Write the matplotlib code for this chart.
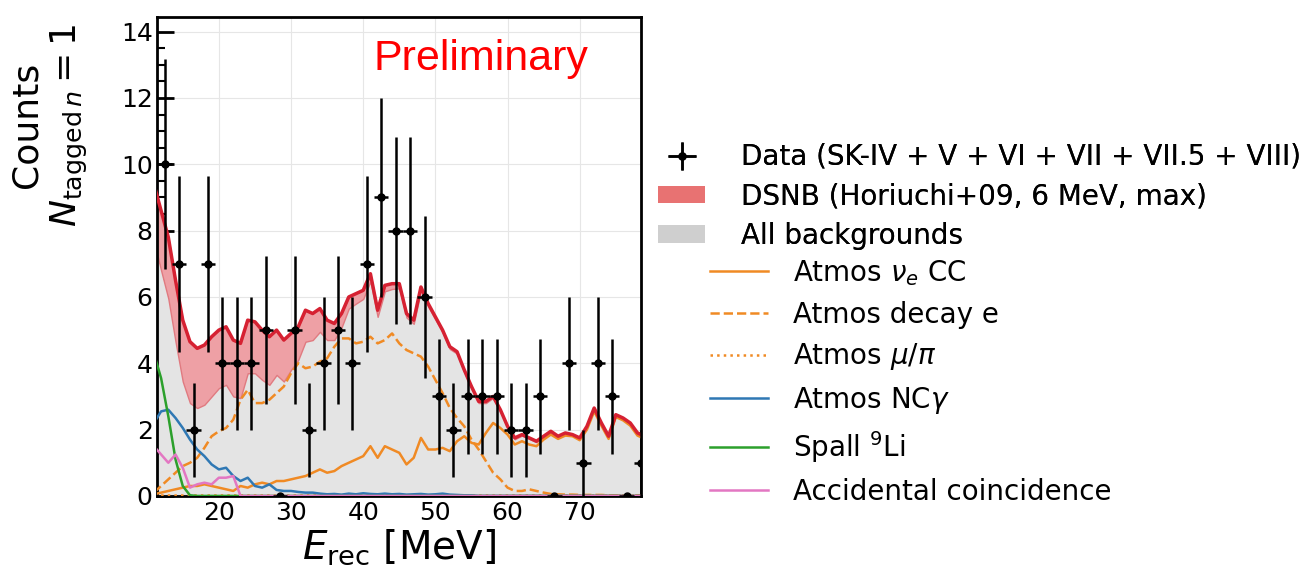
import numpy as np
import matplotlib
matplotlib.use('Agg')
import matplotlib.pyplot as plt
from matplotlib.patches import Patch

# observed events, 2 MeV bins
bin_centers = np.arange(12.5, 79, 2)
counts = [10, 7, 2, 7, 4, 4, 4, 5, 0, 5, 2, 4, 5, 4, 7, 9, 8,
          8, 6, 3, 2, 3, 3, 3, 2, 2, 3, 0, 4, 1, 4, 3, 0, 1]

# model curves, 1 MeV grid
energy = np.arange(11, 80)
total = [9.4, 8.6, 7.8, 6.5, 5.3, 4.65, 4.45, 4.55, 4.8, 5.0,
         5.1, 4.7, 4.6, 5.3, 5.25, 5.0, 4.8, 5.0, 4.7, 4.9,
         5.1, 5.6, 5.5, 5.65, 5.3, 5.2, 5.5, 6.0, 6.1, 6.2,
         6.7, 5.6, 6.35, 6.4, 6.4, 5.5, 5.3, 6.3, 5.8, 5.4,
         5.0, 4.5, 4.35, 3.8, 3.3, 2.85, 2.85, 3.0, 2.6, 2.1,
         1.75, 1.85, 1.75, 1.65, 1.8, 1.95, 1.8, 1.9, 1.85, 1.75,
         2.1, 2.65, 2.2, 1.8, 2.45, 2.35, 2.2, 1.9, 1.8]
dsnb = [1.7, 1.8, 1.85, 1.85, 1.85, 1.85, 1.8, 1.8, 1.8, 1.75,
        1.75, 1.7, 1.65, 1.6, 1.55, 1.5, 1.45, 1.35, 1.25, 1.1,
        1.0, 0.95, 0.8, 0.7, 0.6, 0.5, 0.42, 0.35, 0.3, 0.26,
        0.23, 0.2, 0.18, 0.16, 0.14, 0.12, 0.11, 0.1, 0.09, 0.08,
        0.07, 0.07, 0.06, 0.06, 0.05, 0.05, 0.05, 0.04, 0.04, 0.04,
        0.04, 0.03, 0.03, 0.03, 0.03, 0.03, 0.03, 0.03, 0.02, 0.02,
        0.02, 0.02, 0.02, 0.02, 0.02, 0.02, 0.02, 0.02, 0.02]
atm_cc = [0.05, 0.1, 0.15, 0.2, 0.25, 0.3, 0.3, 0.35, 0.3, 0.25,
          0.2, 0.15, 0.3, 0.25, 0.35, 0.4, 0.35, 0.45, 0.45, 0.5,
          0.55, 0.6, 0.7, 0.8, 0.7, 0.75, 0.9, 1.0, 1.1, 1.2,
          1.5, 1.15, 1.5, 1.4, 1.3, 0.95, 1.15, 1.75, 1.4, 1.4,
          1.45, 1.35, 1.65, 1.8, 1.6, 1.55, 1.9, 2.2, 2.05, 1.85,
          1.55, 1.65, 1.55, 1.5, 1.7, 1.85, 1.72, 1.82, 1.8, 1.68,
          2.0, 2.55, 2.12, 1.72, 2.38, 2.28, 2.12, 1.82, 1.72]
atm_decay = [0.1, 0.3, 0.5, 0.7, 0.9, 1.0, 1.15, 1.45, 1.8, 1.95,
             2.05, 2.3, 2.9, 3.2, 2.8, 2.8, 2.9, 3.1, 3.3, 3.7,
             4.0, 3.85, 3.9, 4.05, 4.15, 4.5, 4.75, 4.75, 4.6, 4.65,
             4.8, 4.6, 4.7, 4.9, 4.6, 4.4, 4.3, 4.2, 3.9, 3.5,
             3.1, 2.65, 2.35, 2.1, 1.7, 1.4, 1.05, 0.7, 0.5, 0.25,
             0.15, 0.15, 0.2, 0.15, 0.1, 0.06, 0.05, 0.04, 0.04, 0.03,
             0.03, 0.03, 0.03, 0.02, 0.02, 0.02, 0.02, 0.02, 0.02]
atm_mupi = [0.02] * 69
atm_ncg = [2.2, 2.55, 2.6, 2.35, 2.05, 1.7, 1.4, 1.2, 0.95, 0.8,
           0.85, 0.6, 0.45, 0.55, 0.3, 0.25, 0.35, 0.18, 0.15, 0.15,
           0.12, 0.1, 0.1, 0.07, 0.05, 0.06, 0.04, 0.07, 0.05, 0.08,
           0.06, 0.05, 0.07, 0.05, 0.06, 0.04, 0.05, 0.06, 0.04, 0.05,
           0.07, 0.04, 0.03, 0.02, 0.02] + [0.0] * 24
spall_li9 = [4.3, 3.55, 2.4, 1.1, 0.3, 0.02] + [0.0] * 63
accidental = [1.5, 1.25, 1.0, 1.25, 0.85, 0.25, 0.35, 0.4, 0.35, 0.55,
              0.55, 0.6] + [0.0] * 57


def main():
    total_arr = np.array(total)
    bkg = total_arr - np.array(dsnb)

    fig = plt.figure(figsize=(13.07, 5.76), dpi=100)
    ax = fig.add_axes([0.1205, 0.139, 0.370, 0.832])

    ax.fill_between(energy, 0, bkg, color='#e4e4e4', lw=0, zorder=1)
    ax.fill_between(energy, bkg, total_arr, facecolor='#eea0a5',
                    edgecolor='#e07a80', lw=1, zorder=2)

    ax.plot(energy, atm_cc, color='#f08a24', lw=1.8, zorder=3)
    ax.plot(energy, atm_decay, color='#f08a24', lw=1.8, ls='--', zorder=3)
    ax.plot(energy, atm_mupi, color='#f08a24', lw=1.8, ls=':', zorder=3)
    ax.plot(energy, atm_ncg, color='#2f78b4', lw=1.8, zorder=3)
    ax.plot(energy, spall_li9, color='#2ca02c', lw=1.8, zorder=3)
    ax.plot(energy, accidental, color='#e377c2', lw=1.8, zorder=3)
    ax.plot(energy, total_arr, color='#d62132', lw=2.5, zorder=4)

    cnt = np.array(counts)
    data = ax.errorbar(bin_centers, cnt, xerr=1.0, yerr=np.sqrt(cnt),
                       fmt='o', ms=5, color='black', elinewidth=1.8,
                       capsize=0, zorder=6, clip_on=True)

    ax.set_xlim(11.5, 78.5)
    ax.set_ylim(0, 14.45)
    ax.set_xticks([20, 30, 40, 50, 60, 70])
    ax.set_xticks(np.arange(12, 79, 2), minor=True)
    ax.set_yticks(np.arange(0, 15, 2))
    ax.set_yticks(np.arange(0, 14.5, 0.5), minor=True)
    ax.tick_params(which='both', direction='in', top=False, right=False,
                   labelsize=18)
    ax.tick_params(which='major', length=12, width=2)
    ax.tick_params(which='minor', length=6, width=1.5)
    for sp in ax.spines.values():
        sp.set_linewidth(2)
    ax.grid(True, which='major', color='#e6e6e6', lw=0.8, zorder=0)
    ax.set_axisbelow(True)

    ax.set_xlabel(r'$E_\mathrm{rec}$ [MeV]', fontsize=28, labelpad=2)
    fig.text(50 / 1307, 1 - 125 / 576,
             'Counts\n' + r'$N_{\mathrm{tagged}\,n}=1$',
             rotation=90, fontsize=26, ha='center', va='center',
             multialignment='center')

    ax.text(0.669, 0.912, 'Preliminary', transform=ax.transAxes,
            color='red', fontsize=31, family='Liberation Sans',
            ha='center', va='center')

    h1 = [data,
          Patch(facecolor='#e87272'),
          Patch(facecolor='#cfcfcf')]
    l1 = ['Data (SK-IV + V + VI + VII + VII.5 + VIII)',
          'DSNB (Horiuchi+09, 6 MeV, max)',
          'All backgrounds']
    leg1 = fig.legend(h1, l1, loc='upper left', frameon=False,
                      fontsize=20, borderpad=0, borderaxespad=0,
                      handlelength=1.7, handleheight=0.6,
                      handletextpad=1.3, labelspacing=0.41,
                      bbox_to_anchor=(658 / 1307, 1 - 143 / 576))
    fig.add_artist(leg1)

    lines = ax.get_lines()[:6]
    l2 = [r'Atmos $\nu_e$ CC', 'Atmos decay e', r'Atmos $\mu/\pi$',
          r'Atmos NC$\gamma$', r'Spall $^{9}$Li', 'Accidental coincidence']
    fig.legend(lines, l2, loc='upper left', frameon=False, fontsize=20,
               borderpad=0, borderaxespad=0, handlelength=2.1,
               handletextpad=0.9, labelspacing=0.46,
               bbox_to_anchor=(710 / 1307, 1 - 258 / 576))

    fig.savefig('out.png', dpi=100)


if __name__ == '__main__':
    main()
